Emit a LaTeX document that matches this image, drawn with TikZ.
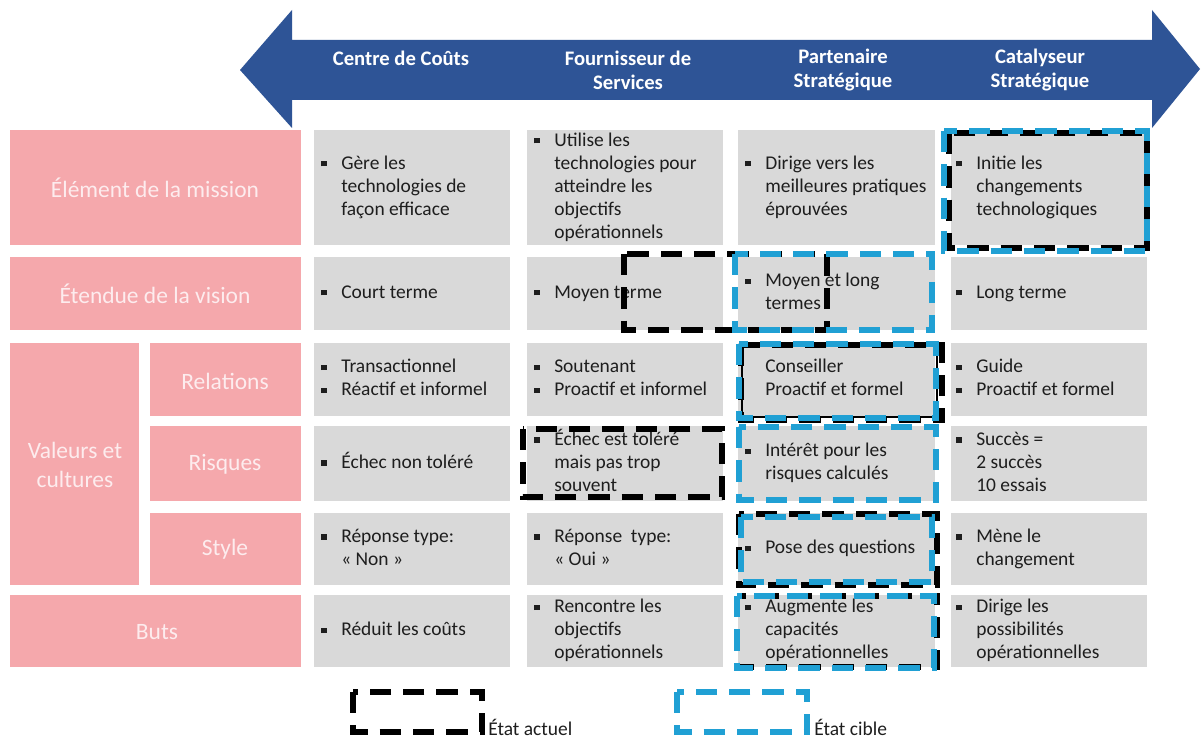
\documentclass[tikz,border=0pt]{standalone}
\usepackage{fontspec}
\setmainfont{Carlito}
\definecolor{pinkc}{RGB}{245,168,172}
\definecolor{grayc}{RGB}{217,217,217}
\definecolor{arrowc}{RGB}{46,84,150}
\definecolor{bluec}{RGB}{32,160,212}
\definecolor{labc}{RGB}{253,236,238}
\definecolor{txtc}{RGB}{30,30,30}
\newcommand\cellbullet{\raisebox{0.28ex}{\rule{4pt}{4pt}}}
\newcommand\cellfont{\fontsize{14.6pt}{17.25pt}\selectfont}
\newcommand\labfont{\fontsize{17.6pt}{21.75pt}\selectfont}
\newcommand\hdrfont{\fontsize{15.5pt}{18pt}\selectfont\bfseries}
\newenvironment{celltab}{\begin{tabular}{@{}p{15pt}@{}l@{}}}{\end{tabular}}
\begin{document}
\begin{tikzpicture}[x=0.75pt,y=-0.75pt,
  pinkbox/.style={fill=pinkc},
  graybox/.style={fill=grayc},
  lab/.style={text=labc, font=\labfont, align=center, inner sep=0pt},
  cell/.style={anchor=west, inner sep=0pt, font=\cellfont, text=txtc},
  hdr/.style={text=white, font=\hdrfont, align=center, inner sep=0pt},
  cur/.style={draw=black, line width=4pt, dash pattern=on 16pt off 9pt},
  tgt/.style={draw=bluec, line width=4pt, dash pattern=on 16pt off 9pt},
  thinbox/.style={draw=black, line width=1.2pt},
  legtext/.style={anchor=west, inner sep=0pt, font=\cellfont, text=txtc}]
\useasboundingbox (0,0) rectangle (1202,738);
\fill[white] (0,0) rectangle (1202,738);
% arrow
\fill[arrowc] (240,70) -- (292,10) -- (292,40) -- (1152,40) -- (1152,10) -- (1200,69)
  -- (1152,128) -- (1152,100) -- (292,100) -- (292,128) -- cycle;
\node[hdr] (h1) at (401,58) {Centre de Coûts};
\node[hdr] (h2) at (628,70) {Fournisseur de\\Services};
\node[hdr] (h3) at (843,70) {Partenaire\\Stratégique};
\node[hdr] (h4) at (1040,70) {Catalyseur\\Stratégique};
% pink labels
\path[pinkbox] (10,130) rectangle (301,245);
\path[pinkbox] (10,257) rectangle (301,330);
\path[pinkbox] (10,343) rectangle (139,585);
\path[pinkbox] (150,343) rectangle (301,416);
\path[pinkbox] (150,426) rectangle (301,501);
\path[pinkbox] (150,513) rectangle (301,585);
\path[pinkbox] (10,595) rectangle (301,667);
\node[lab] (lmission) at (155,188) {Élément de la mission};
\node[lab] (lvision) at (155,294) {Étendue de la vision};
\node[lab] (lvaleurs) at (75,465) {Valeurs et\\cultures};
\node[lab] (lrel) at (225,381) {Relations};
\node[lab] (lrisq) at (225,464) {Risques};
\node[lab] (lstyle) at (225,549) {Style};
\node[lab] (lbuts) at (157,632) {Buts};
% gray cells
\foreach \xa/\xb in {314/510,527/723,738/935,951/1147}{
  \foreach \ya/\yb in {130/245,257/330,343/416,426/501,513/585,595/667}{
    \path[graybox] (\xa,\ya) rectangle (\xb,\yb);
  }
}
% row 1
\node[cell] (r1c1) at (321,187.5) {\begin{celltab}\cellbullet & Gère les\\ & technologies de\\ & façon efficace\end{celltab}};
\node[cell] (r1c2) at (534,187.5) {\begin{celltab}\cellbullet & Utilise les\\ & technologies pour\\ & atteindre les\\ & objectifs\\ & opérationnels\end{celltab}};
\node[cell] (r1c3) at (745,187.5) {\begin{celltab}\cellbullet & Dirige vers les\\ & meilleures pratiques\\ & éprouvées\end{celltab}};
\node[cell] (r1c4) at (956,187.5) {\begin{celltab}\cellbullet & Initie les\\ & changements\\ & technologiques\end{celltab}};
% row 2
\node[cell] (r2c1) at (321,293.5) {\begin{celltab}\cellbullet & Court terme\end{celltab}};
\node[cell] (r2c2) at (534,293.5) {\begin{celltab}\cellbullet & Moyen terme\end{celltab}};
\node[cell] (r2c3) at (745,293.5) {\begin{celltab}\cellbullet & Moyen et long\\ & termes\end{celltab}};
\node[cell] (r2c4) at (956,293.5) {\begin{celltab}\cellbullet & Long terme\end{celltab}};
% row 3
\node[cell] (r3c1) at (321,379.5) {\begin{celltab}\cellbullet & Transactionnel\\ \cellbullet & Réactif et informel\end{celltab}};
\node[cell] (r3c2) at (534,379.5) {\begin{celltab}\cellbullet & Soutenant\\ \cellbullet & Proactif et informel\end{celltab}};
\node[cell] (r3c3) at (745,379.5) {\begin{celltab} & Conseiller\\ & Proactif et formel\end{celltab}};
\node[cell] (r3c4) at (956,379.5) {\begin{celltab}\cellbullet & Guide\\ \cellbullet & Proactif et formel\end{celltab}};
% row 4
\node[cell] (r4c1) at (321,463.5) {\begin{celltab}\cellbullet & Échec non toléré\end{celltab}};
\node[cell] (r4c2) at (534,463.5) {\begin{celltab}\cellbullet & Échec est toléré\\ & mais pas trop\\ & souvent\end{celltab}};
\node[cell] (r4c3) at (745,463.5) {\begin{celltab}\cellbullet & Intérêt pour les\\ & risques calculés\end{celltab}};
\node[cell] (r4c4) at (956,463.5) {\begin{celltab}\cellbullet & Succès =\\ & 2 succès\\ & 10 essais\end{celltab}};
% row 5
\node[cell] (r5c1) at (321,549) {\begin{celltab}\cellbullet & Réponse type:\\ & « Non »\end{celltab}};
\node[cell] (r5c2) at (534,549) {\begin{celltab}\cellbullet & Réponse\ \ type:\\ & « Oui »\end{celltab}};
\node[cell] (r5c3) at (745,549) {\begin{celltab}\cellbullet & Pose des questions\end{celltab}};
\node[cell] (r5c4) at (956,549) {\begin{celltab}\cellbullet & Mène le\\ & changement\end{celltab}};
% row 6
\node[cell] (r6c1) at (321,631) {\begin{celltab}\cellbullet & Réduit les coûts\end{celltab}};
\node[cell] (r6c2) at (534,631) {\begin{celltab}\cellbullet & Rencontre les\\ & objectifs\\ & opérationnels\end{celltab}};
\node[cell] (r6c3) at (745,631) {\begin{celltab}\cellbullet & Augmente les\\ & capacités\\ & opérationnelles\end{celltab}};
\node[cell] (r6c4) at (956,631) {\begin{celltab}\cellbullet & Dirige les\\ & possibilités\\ & opérationnelles\end{celltab}};
% dashed state boxes
\draw[cur] (949,133) rectangle (1147,248);
\draw[tgt] (944,131) rectangle (1147,251);
\draw[cur] (624,254) rectangle (827,330);
\draw[tgt] (735,254) rectangle (932,330);
\draw[thinbox] (742,346) rectangle (937,417);
\draw[cur] (741,345) rectangle (942,420);
\draw[tgt] (739,344) rectangle (936,418);
\draw[cur] (523,429) rectangle (722,497);
\draw[tgt] (739,427) rectangle (936,500);
\draw[cur] (739,514) rectangle (937,585);
\draw[tgt] (741,517) rectangle (932,582);
\draw[cur] (737,596) rectangle (937,667);
\draw[tgt] (737,596) rectangle (934,668);
% legend
\draw[cur] (353,692) rectangle (482,732);
\node[legtext] (lact) at (488,727) {État actuel};
\draw[tgt] (677,692) rectangle (807,732);
\node[legtext] (lcib) at (814,727) {État cible};
\end{tikzpicture}
\end{document}
